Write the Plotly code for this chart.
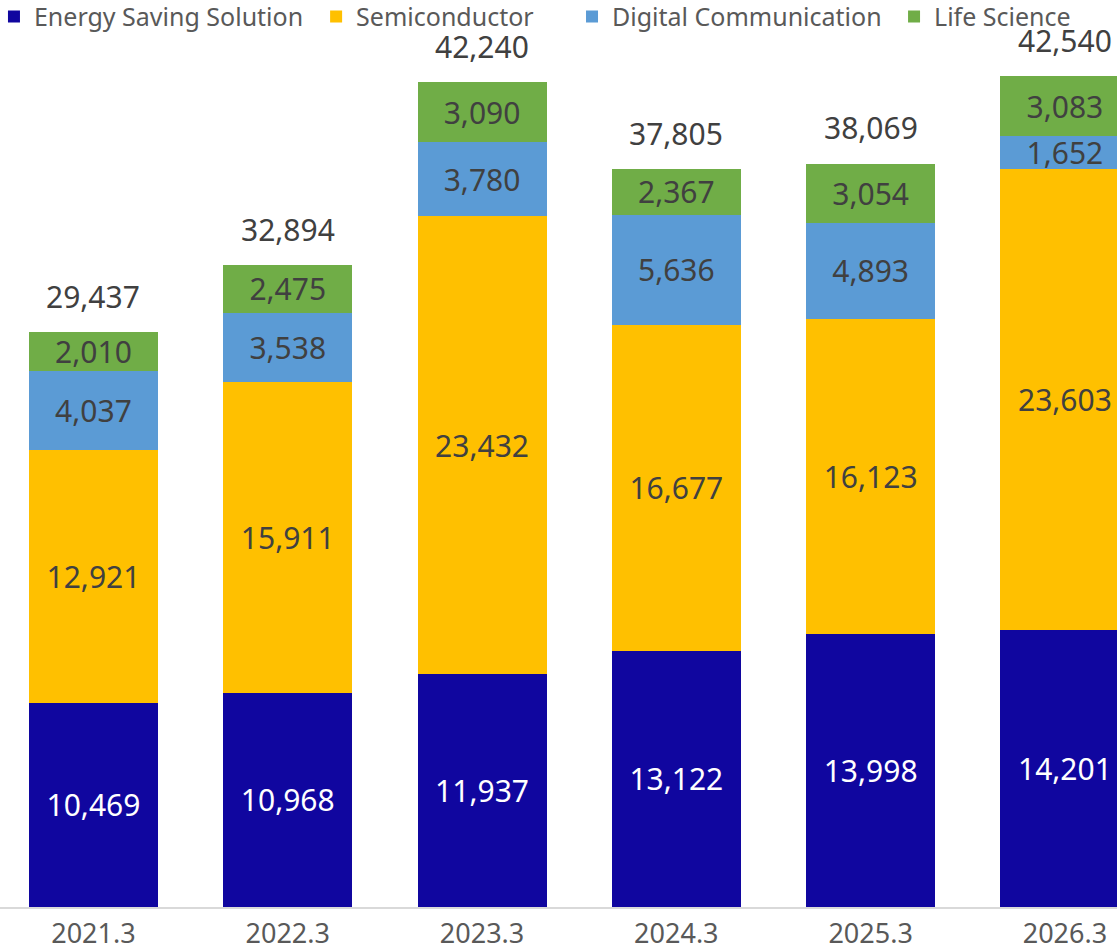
import plotly.graph_objects as go

categories = ["2021.3", "2022.3", "2023.3", "2024.3", "2025.3", "2026.3"]
energy_saving = [10469, 10968, 11937, 13122, 13998, 14201]
semiconductor = [12921, 15911, 23432, 16677, 16123, 23603]
digital_comm = [4037, 3538, 3780, 5636, 4893, 1652]
life_science = [2010, 2475, 3090, 2367, 3054, 3083]
totals = [29437, 32894, 42240, 37805, 38069, 42540]

FONT = "Noto Sans"
GRAY = "#595959"
DARK = "#404040"

series = [
    ("Energy Saving Solution", energy_saving, "#10069F", "white"),
    ("Semiconductor", semiconductor, "#FFC000", DARK),
    ("Digital Communication", digital_comm, "#5B9BD5", DARK),
    ("Life Science", life_science, "#70AD47", DARK),
]
legend_ids = ["legend", "legend2", "legend3", "legend4"]
legend_x = [-0.0054, 0.2830, 0.5121, 0.8004]

fig = go.Figure()
for (name, vals, color, tcolor), lid in zip(series, legend_ids):
    fig.add_trace(go.Bar(
        name=name, x=categories, y=vals, legend=lid,
        marker=dict(color=color, line=dict(width=0)),
        texttemplate="%{y:,}", textposition="inside",
        insidetextanchor="middle", textangle=0,
        textfont=dict(family=FONT, size=30, color=tcolor),
        hoverinfo="skip", cliponaxis=False,
    ))

for i, t in enumerate(totals):
    fig.add_annotation(x=i, y=t, xref="x", yref="y", text=f"{t:,}",
                       showarrow=False, yanchor="bottom", yshift=13,
                       font=dict(family=FONT, size=30, color=DARK))

legend_style = dict(orientation="h", xanchor="left", y=1.007, yanchor="top",
                    font=dict(family=FONT, size=25, color=GRAY),
                    bgcolor="rgba(0,0,0,0)", itemclick=False,
                    itemdoubleclick=False)
layout_legends = {lid: dict(legend_style, x=lx) for lid, lx in zip(legend_ids, legend_x)}

fig.update_layout(
    barmode="stack", bargap=0.336,
    width=1117, height=950,
    margin=dict(l=0, r=0, t=0, b=43, autoexpand=False),
    plot_bgcolor="white", paper_bgcolor="white",
    font=dict(family=FONT, color=GRAY),
    uniformtext=dict(minsize=30, mode="show"),
    showlegend=True,
    **layout_legends,
)
fig.update_xaxes(type="category", range=[-0.481, 5.268], showgrid=False,
                 showline=True, linecolor="#D9D9D9", linewidth=2, ticks="",
                 ticklabelstandoff=2,
                 tickfont=dict(family=FONT, size=27, color=GRAY))
fig.update_yaxes(range=[0, 46440], visible=False, showgrid=False)

fig.write_html("out.html", config={"displayModeBar": False},
               post_script="document.body.style.margin='0px';")
